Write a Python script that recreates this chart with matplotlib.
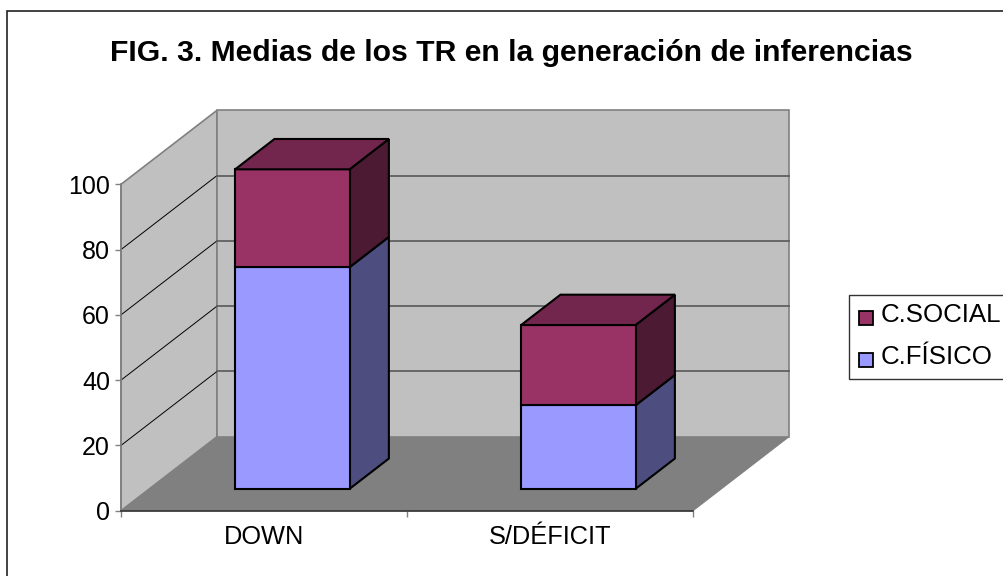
import matplotlib
matplotlib.use('Agg')
import matplotlib.pyplot as plt
from matplotlib.patches import Polygon, Rectangle

categories = ['DOWN', 'S/DÉFICIT']
series_names = ['C.FÍSICO', 'C.SOCIAL']
fisico = [67.9, 25.6]
social = [30.0, 24.6]
y_ticks = [0, 20, 40, 60, 80, 100]

colors = {'C.FÍSICO': ('#9999FF', '#4D4D80', '#9999FF'),
          'C.SOCIAL': ('#993366', '#4D1A33', '#73264D')}

W, H = 1004, 576
plt.rcParams['font.family'] = ['Liberation Sans', 'DejaVu Sans']

fig = plt.figure(figsize=(W/100, H/100), dpi=100)
# outer frame runs off the right and bottom edges of the image
fig.patches.append(Rectangle((7/W, 1 - 590/H), 1010/W, 579/H, transform=fig.transFigure,
                             fc='white', ec='#222222', lw=1.2, zorder=-2))

# front plane of the 3d box: x 121-693 px, y 184-511 px
x0, x1, ytop, ybot = 121, 693, 184.3, 510.7
ax = fig.add_axes([x0/W, 1 - ybot/H, (x1 - x0)/W, (ybot - ytop)/H])
ax.set_xlim(0, 2)
ax.set_ylim(0, 100)
ax.patch.set_visible(False)
for s in ['top', 'right']:
    ax.spines[s].set_visible(False)
ax.spines['left'].set_color('#808080')
ax.spines['left'].set_linewidth(1.2)
ax.spines['bottom'].set_color('#333333')
ax.spines['bottom'].set_linewidth(1.2)

# depth 1.0 = back wall
DX = 96 / ((x1 - x0) / 2)
DY = 74 / ((ybot - ytop) / 100)

def proj(x, y, d):
    return (x + d*DX, y + d*DY)

def face(pts, fc, ec, lw, z):
    ax.add_patch(Polygon([proj(*p) for p in pts], closed=True, fc=fc, ec=ec, lw=lw,
                         zorder=z, clip_on=False, joinstyle='miter'))

# walls and floor
face([(0, 0, 0), (2, 0, 0), (2, 0, 1), (0, 0, 1)], '#808080', '#808080', 0.8, 1)
face([(0, 0, 0), (0, 0, 1), (0, 100, 1), (0, 100, 0)], '#C0C0C0', '#808080', 1.2, 1)
face([(0, 0, 1), (2, 0, 1), (2, 100, 1), (0, 100, 1)], '#C0C0C0', '#808080', 1.2, 1)

for t in y_ticks[1:-1]:
    ax.plot(*zip(proj(0, t, 0), proj(0, t, 1)), color='black', lw=0.7, zorder=2, clip_on=False)
    ax.plot(*zip(proj(0, t, 1), proj(2, t, 1)), color='#606060', lw=1.3, zorder=2, clip_on=False)

# stacked bars
bar_w = 0.4
d0, d1 = 0.295, 0.705
for i, cat in enumerate(categories):
    left = i + 0.5 - bar_w/2
    right = left + bar_w
    bottom = 0
    for name, vals in zip(series_names, [fisico, social]):
        top = bottom + vals[i]
        front, side, lid = colors[name]
        face([(right, bottom, d0), (right, bottom, d1), (right, top, d1), (right, top, d0)],
             side, 'black', 1.5, 5)
        face([(left, bottom, d0), (right, bottom, d0), (right, top, d0), (left, top, d0)],
             front, 'black', 1.5, 6)
        bottom = top
    face([(left, bottom, d0), (right, bottom, d0), (right, bottom, d1), (left, bottom, d1)],
         lid, 'black', 1.5, 6)

ax.set_yticks(y_ticks)
ax.tick_params(axis='y', length=4.5, width=1, color='#808080', labelsize=18, pad=3.5, labelcolor='black')
ax.set_xticks([0, 1, 2])
ax.set_xticklabels([])
ax.tick_params(axis='x', which='major', length=4.5, width=1, color='#808080')
ax.set_xticks([0.5, 1.5], minor=True)
ax.set_xticklabels(categories, minor=True, fontsize=18.3)
ax.tick_params(axis='x', which='minor', length=0, pad=10)

fig.text(511/W, 1 - 61/H, 'FIG. 3. Medias de los TR en la generación de inferencias',
         ha='center', va='baseline', fontsize=21.7, fontweight='bold')

# legend
fig.patches.append(Rectangle((849/W, 1 - 379/H), 170/W, 84/H, transform=fig.transFigure,
                             fc='white', ec='#333333', lw=1, zorder=-1))
for name, yp in zip(['C.SOCIAL', 'C.FÍSICO'], [318, 360]):
    fig.patches.append(Rectangle((859.5/W, 1 - (yp + 7)/H), 14/W, 14/H, transform=fig.transFigure,
                                 fc=colors[name][0], ec='black', lw=1.3))
    fig.text(881/W, 1 - (yp + 4.5)/H, name, ha='left', va='baseline', fontsize=18.6)

fig.savefig('out.png', dpi=100)
